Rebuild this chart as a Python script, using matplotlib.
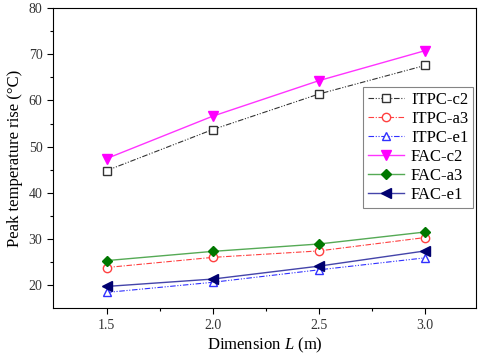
import numpy as np
import matplotlib.pyplot as plt

plt.rcParams['font.family'] = ['Liberation Serif', 'DejaVu Serif']
plt.rcParams['mathtext.fontset'] = 'custom'
plt.rcParams['mathtext.it'] = 'Liberation Serif:italic'
plt.rcParams['mathtext.rm'] = 'Liberation Serif'

L = [1.5, 2.0, 2.5, 3.0]
itpc_c2 = [44.8, 53.7, 61.4, 67.6]
itpc_a3 = [23.8, 26.0, 27.4, 30.3]
itpc_e1 = [18.4, 20.6, 23.3, 25.9]
fac_c2 = [47.4, 56.6, 64.3, 70.8]
fac_a3 = [25.3, 27.3, 28.9, 31.5]
fac_e1 = [19.7, 21.3, 24.1, 27.4]

dash_dot_dot = (0, (5, 1.5, 1, 1.5, 1, 1.5))
dash_dot = (0, (5, 1.5, 1, 1.5))

fig = plt.figure(figsize=(4.8, 3.55), dpi=100)
ax = fig.add_axes([0.110, 0.132, 0.882, 0.845])

ms = 6
ax.plot(L, itpc_c2, color='#333333', ls=dash_dot_dot, lw=0.8, marker='s',
        mfc='white', mec='#333333', ms=5.5, label='ITPC-c2')
ax.plot(L, itpc_a3, color='#ff4040', ls=dash_dot, lw=0.8, marker='o',
        mfc='white', mec='#ff4040', ms=ms, label='ITPC-a3')
ax.plot(L, itpc_e1, color='#3030ff', ls=dash_dot_dot, lw=0.8, marker='^',
        mfc='white', mec='#3030ff', ms=ms, label='ITPC-e1')
ax.plot(L, fac_c2, color='#ff33ff', ls='-', lw=1.0, marker='v',
        mfc='#ff00ff', mec='#ff00ff', ms=ms + 1, label='FAC-c2')
ax.plot(L, fac_a3, color='#55aa55', ls='-', lw=1.0, marker='D',
        mfc='#007700', mec='#007700', ms=ms - 0.5, label='FAC-a3')
ax.plot(L, fac_e1, color='#4444aa', ls='-', lw=1.0, marker='<',
        mfc='#000070', mec='#000070', ms=ms + 1, label='FAC-e1')

ax.set_xlim(1.247, 3.24)
ax.set_ylim(15, 80)
ax.set_xticks([1.5, 2.0, 2.5, 3.0])
ax.set_xticks([1.75, 2.25, 2.75], minor=True)
ax.set_yticks([20, 30, 40, 50, 60, 70, 80])
ax.set_yticks([25, 35, 45, 55, 65, 75], minor=True)
ax.tick_params(which='major', direction='out', length=4, width=0.8,
               labelsize=10, colors='black', labelcolor='#333333')
ax.tick_params(which='minor', direction='out', length=2.5, width=0.8)
ax.tick_params(top=False, right=False)

ax.set_xlabel('Dimension $L$ (m)', fontsize=12, labelpad=3)
ax.set_ylabel('Peak temperature rise (°C)', fontsize=12, labelpad=4)

leg = ax.legend(loc='upper right', bbox_to_anchor=(0.993, 0.737), fontsize=12,
                frameon=True, fancybox=False, handlelength=2.2,
                handletextpad=0.4, labelspacing=0.18, borderpad=0.3,
                borderaxespad=0)
leg.get_frame().set_edgecolor('#666666')
leg.get_frame().set_linewidth(0.8)

fig.savefig('out.png', dpi=100)
